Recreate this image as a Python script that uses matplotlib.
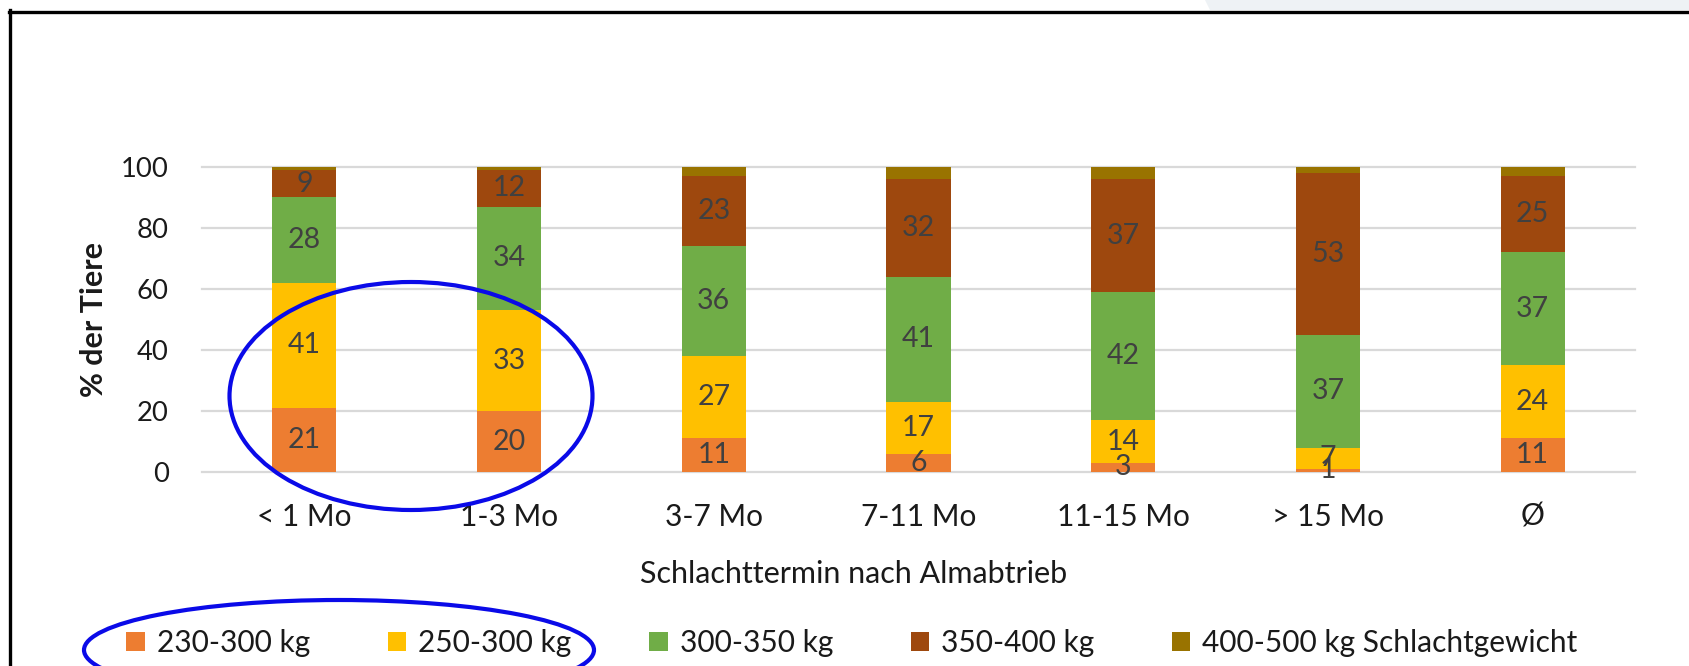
import matplotlib
matplotlib.use("Agg")
import matplotlib.pyplot as plt
import numpy as np
from matplotlib.patches import Ellipse, Polygon
from matplotlib.lines import Line2D

plt.rcParams['font.family'] = ['Lato', 'DejaVu Sans']

# data
categories = ["< 1 Mo", "1-3 Mo", "3-7 Mo", "7-11 Mo", "11-15 Mo", "> 15 Mo", "Ø"]
w230_300 = [21, 20, 11, 6, 3, 1, 11]
w250_300 = [41, 33, 27, 17, 14, 7, 24]
w300_350 = [28, 34, 36, 41, 42, 37, 37]
w350_400 = [9, 12, 23, 32, 37, 53, 25]
w400_500 = [1, 1, 3, 4, 4, 2, 3]
series_names = ["230-300 kg", "250-300 kg", "300-350 kg", "350-400 kg",
                "400-500 kg Schlachtgewicht"]
series_colors = ["#ED7D31", "#FFC000", "#70AD47", "#9E480E", "#997300"]
show_labels = [True, True, True, True, False]

txt_col = "#1a1a1a"
lab_col = "#404040"

fig = plt.figure(figsize=(16.89, 6.66), dpi=100)
ax = fig.add_axes([202 / 1689, 1 - 472 / 666, (1635 - 202) / 1689, (472 - 167) / 666])

x = np.arange(len(categories))
bottom = np.zeros(len(categories))
handles = []
for vals, name, col, lab in zip([w230_300, w250_300, w300_350, w350_400, w400_500],
                                series_names, series_colors, show_labels):
    vals = np.array(vals, dtype=float)
    bars = ax.bar(x, vals, 0.313, bottom=bottom, color=col, label=name, zorder=3)
    handles.append(bars)
    if lab:
        for xi, b, v in zip(x, bottom, vals):
            ax.text(xi, b + v / 2, f"{int(v)}", ha="center", va="center",
                    fontsize=20.5, color=lab_col, zorder=4)
    bottom += vals

ax.set_xlim(-0.5, len(categories) - 0.5)
ax.set_ylim(0, 100)
ax.set_yticks([0, 20, 40, 60, 80, 100])
ax.set_xticks(x)
ax.set_xticklabels(categories)
ax.tick_params(axis="both", length=0, colors=txt_col)
ax.tick_params(axis="y", pad=24, labelsize=19.7)
ax.tick_params(axis="x", pad=22, labelsize=21.5)
for s in ax.spines.values():
    s.set_visible(False)
ax.yaxis.grid(True, color="#D9D9D9", linewidth=1.6, zorder=0)
for gl in ax.get_ygridlines():
    gl.set_clip_on(False)
ax.set_ylabel("% der Tiere", fontsize=22, fontweight="bold", color=txt_col)
ax.yaxis.set_label_coords(-(202 - 108) / (1635 - 202), 0.5)

fig.text(854 / 1689, 1 - 574 / 666, "Schlachttermin nach Almabtrieb",
         ha="center", va="center", fontsize=22, color=txt_col)

fig.legend(handles=handles, labels=series_names, loc="center", ncol=5,
           bbox_to_anchor=(852 / 1689, 1 - 643 / 666), frameon=False, fontsize=21.5,
           handlelength=0.62, handleheight=0.62, handletextpad=0.4,
           columnspacing=2.6, labelcolor=txt_col)

# hand-drawn blue circles
fig.patches.append(Ellipse((411 / 1689, 1 - 396 / 666), 363 / 1689, 228 / 666,
                           transform=fig.transFigure, fill=False, edgecolor="#0A0AE8",
                           linewidth=3.0, zorder=10))
fig.patches.append(Ellipse((339 / 1689, 1 - 650 / 666), 510 / 1689, 100 / 666,
                           transform=fig.transFigure, fill=False, edgecolor="#0A0AE8",
                           linewidth=3.0, zorder=10))

# screenshot frame and grey strip at top right
fig.patches.append(Polygon([(1205 / 1689, 1), (1, 1), (1, 1 - 10 / 666), (1210 / 1689, 1 - 10 / 666)],
                           closed=True, transform=fig.transFigure, facecolor="#EEF2F5",
                           edgecolor="none"))
fig.lines.append(Line2D([8.5 / 1689, 1], [1 - 11.5 / 666, 1 - 11.5 / 666], transform=fig.transFigure,
                        color="black", linewidth=2.4))
fig.lines.append(Line2D([9.5 / 1689, 9.5 / 1689], [1 - 10 / 666, 0], transform=fig.transFigure,
                        color="black", linewidth=2.4))

fig.savefig("out.png", dpi=100)
